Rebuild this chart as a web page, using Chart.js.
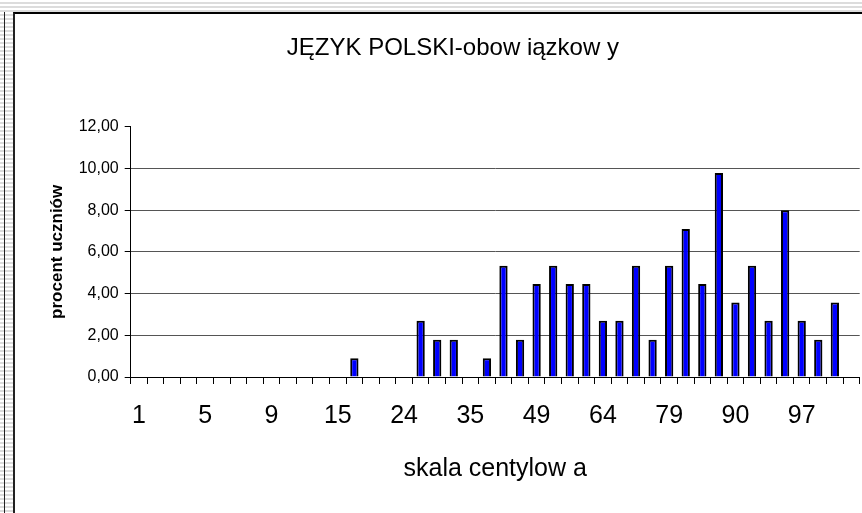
<!DOCTYPE html>
<html>
<head>
<meta charset="utf-8">
<script src="https://cdn.jsdelivr.net/npm/chart.js@4/dist/chart.umd.min.js"></script>
<style>
  html, body { margin: 0; padding: 0; background: #fff; }
  #wrap { position: relative; width: 862px; height: 513px; overflow: hidden;
    background: repeating-linear-gradient(to bottom, #ffffff 0px, #ffffff 2px, #dcdcdc 2px, #dcdcdc 4px); }
  #leftline { position: absolute; left: 4px; top: 12px; width: 1px; height: 501px; background: #222; }
  #frame { position: absolute; left: 13px; top: 12px; right: 0; bottom: 0; background: #fff;
    border-left: 2px solid #222; border-top: 2px solid #000; }
  canvas { position: absolute; left: 0; top: 0; }
</style>
</head>
<body>
<div id="wrap">
  <div id="leftline"></div>
  <div id="frame"></div>
  <canvas id="c" width="862" height="513"></canvas>
</div>
<script>
const categories = ['1','2','3','4','5','6','7','8','9','11','12','13','15','17','19','21','24','26','29','32','35','38','42','45','49','52','56','60','64','67','71','75','79','81','84','87','90','92','94','96','97','98','99','100'];
const shownLabels = ['1','5','9','15','24','35','49','64','79','90','97'];
const values = [0,0,0,0,0,0,0,0,0,0,0,0,0,
  0.9,0,0,0,
  2.7,1.79,1.79,0,
  0.9,5.33,1.79,4.46,5.33,4.46,4.46,2.7,2.7,5.33,1.79,5.33,7.1,4.46,9.78,3.57,5.33,2.7,8.0,2.7,1.79,3.57,
  0];
const yTicks = [0,2,4,6,8,10,12];
const titleText = 'JĘZYK POLSKI-obow iązkow y';
const xTitle = 'skala centylow a';
const yTitle = 'procent uczniów';

const FONT = "'Liberation Sans', Arial, sans-serif";

new Chart(document.getElementById('c'), {
  type: 'bar',
  data: {
    labels: categories,
    datasets: [{
      data: values,
      backgroundColor: '#0000ff',
      borderColor: '#000000',
      borderWidth: 2,
      borderSkipped: 'start',
      barPercentage: 0.5,
      categoryPercentage: 1.0
    }]
  },
  options: {
    responsive: false,
    animation: false,
    devicePixelRatio: 1,
    layout: { padding: { left: 46, right: 2.3, top: 0, bottom: 0 } },
    plugins: {
      legend: { display: false },
      tooltip: { enabled: false },
      title: {
        display: true,
        text: titleText,
        color: '#000',
        font: { family: FONT, size: 24, weight: 'normal', lineHeight: 1.2 },
        padding: { top: 34, bottom: 63.9 }
      }
    },
    scales: {
      x: {
        afterFit: function(axis) { axis.paddingLeft = 0; axis.paddingRight = 0; },
        grid: { display: true, drawOnChartArea: false, offset: true, tickLength: 7, tickColor: '#000', color: '#000' },
        border: { display: true, color: '#000', width: 1 },
        ticks: {
          autoSkip: false, maxRotation: 0, minRotation: 0, padding: 17,
          color: '#000',
          font: { family: FONT, size: 25, lineHeight: 1.2 },
          callback: function(v, i) { const l = categories[i]; return shownLabels.includes(l) && i % 4 === 0 ? l : ''; }
        },
        title: {
          display: true, text: xTitle, color: '#000',
          font: { family: FONT, size: 25, lineHeight: 1.2 },
          padding: { top: 6, bottom: 29 }
        }
      },
      y: {
        min: 0, max: 12,
        afterBuildTicks: function(axis) { axis.ticks = yTicks.map(v => ({ value: v })); },
        afterFit: function(axis) { axis.width = 84.7; },
        grid: {
          drawTicks: true, tickLength: 6, tickColor: '#000',
          color: function(ctx) { return (ctx.tick && (ctx.tick.value === 12 || ctx.tick.value === 0)) ? 'rgba(0,0,0,0)' : '#555'; },
          lineWidth: 1
        },
        border: { display: true, color: '#000', width: 1 },
        ticks: {
          padding: 6, color: '#000',
          font: { family: FONT, size: 16 },
          callback: function(v) { return Number(v).toFixed(2).replace('.', ','); }
        },
        title: {
          display: true, text: yTitle, color: '#000',
          font: { family: FONT, size: 17, weight: 'bold', lineHeight: 1.2 },
          padding: { top: 1, bottom: 0 }
        }
      }
    }
  }
});
</script>
</body>
</html>
